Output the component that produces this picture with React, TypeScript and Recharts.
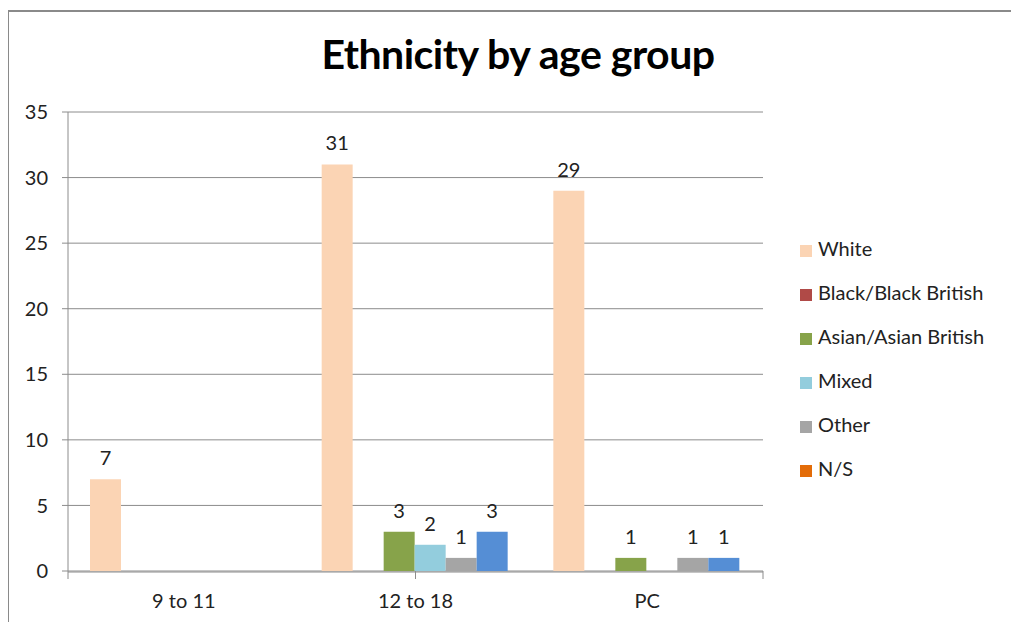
import { BarChart, Bar, XAxis, YAxis, CartesianGrid, Legend, LabelList, Cell } from "recharts";

const groups = ["9 to 11", "12 to 18", "PC"];
const white = [7, 31, 29];
const black = [0, 0, 0];
const asian = [0, 3, 1];
const mixed = [0, 2, 0];
const other = [0, 1, 1];
const notStated = [0, 3, 1];
const yTicks = [0, 5, 10, 15, 20, 25, 30, 35];
const seriesNames = ["White", "Black/Black British", "Asian/Asian British", "Mixed", "Other", "N/S"];

const data = groups.map((name, i) => ({
  name,
  white: white[i],
  black: black[i],
  asian: asian[i],
  mixed: mixed[i],
  other: other[i],
  ns: notStated[i],
}));

const FONT = "Lato, 'Open Sans', sans-serif";
const GRID = "#8c8c8c";

const showValue = (v: unknown) => (Number(v) > 0 ? String(v) : "");
const labelStyle = { fontSize: 20, fill: "#222", fontFamily: FONT };

export default function App() {
  return (
    <div style={{ position: "relative", width: 1019, height: 630, margin: -8, fontFamily: FONT, background: "#fff" }}>
      <div
        style={{
          position: "absolute",
          left: 0,
          width: 1036,
          top: 29,
          textAlign: "center",
          fontSize: 41,
          fontWeight: 700,
          color: "#000",
          letterSpacing: -0.5,
        }}
      >
        Ethnicity by age group
      </div>
      <BarChart
        width={1019}
        height={630}
        data={data}
        margin={{ top: 112, right: 37, left: 8, bottom: 24 }}
        barCategoryGap={22}
        barGap={0}
        style={{ position: "absolute", left: 0, top: 0 }}
      >
        <CartesianGrid xAxisId="cat" vertical={false} stroke={GRID} strokeWidth={1} />
        {/* ticks between categories, like the original */}
        <XAxis
          xAxisId="bounds"
          type="number"
          domain={[0, 3]}
          ticks={[0, 1, 2, 3]}
          height={1}
          axisLine={false}
          tickLine={{ stroke: GRID }}
          tickSize={8}
          tickFormatter={() => ""}
        />
        <XAxis
          xAxisId="cat"
          dataKey="name"
          height={34}
          axisLine={{ stroke: GRID }}
          tickLine={false}
          tick={{ fontSize: 20, fill: "#222", fontFamily: FONT }}
          tickMargin={16}
        />
        <YAxis
          domain={[0, 35]}
          ticks={yTicks}
          width={60}
          axisLine={{ stroke: GRID }}
          tickLine={{ stroke: GRID }}
          tickSize={6}
          tick={{ fontSize: 20, fill: "#222", fontFamily: FONT }}
          tickMargin={14}
          interval={0}
        />
        <Legend
          layout="vertical"
          align="right"
          verticalAlign="top"
          iconType="square"
          iconSize={12}
          itemSorter={(item: any) => seriesNames.indexOf(item.value)}
          wrapperStyle={{ left: 800, top: 226, width: 219, fontSize: 20, lineHeight: "44px", fontFamily: FONT }}
          formatter={(v) => <span style={{ color: "#222", marginLeft: 2 }}>{v}</span>}
        />
        <Bar xAxisId="cat" dataKey="white" name={seriesNames[0]} fill="#FBD4B4" isAnimationActive={false}>
          <LabelList dataKey="white" position="top" offset={14} formatter={showValue} style={labelStyle} />
        </Bar>
        <Bar xAxisId="cat" dataKey="black" name={seriesNames[1]} fill="#B04A47" isAnimationActive={false}>
          <LabelList dataKey="black" position="top" offset={14} formatter={showValue} style={labelStyle} />
        </Bar>
        <Bar xAxisId="cat" dataKey="asian" name={seriesNames[2]} fill="#87A34A" isAnimationActive={false}>
          <LabelList dataKey="asian" position="top" offset={14} formatter={showValue} style={labelStyle} />
        </Bar>
        <Bar xAxisId="cat" dataKey="mixed" name={seriesNames[3]} fill="#93CDDD" isAnimationActive={false}>
          <LabelList dataKey="mixed" position="top" offset={14} formatter={showValue} style={labelStyle} />
        </Bar>
        <Bar xAxisId="cat" dataKey="other" name={seriesNames[4]} fill="#A5A5A5" isAnimationActive={false}>
          <LabelList dataKey="other" position="top" offset={14} formatter={showValue} style={labelStyle} />
        </Bar>
        <Bar xAxisId="cat" dataKey="ns" name={seriesNames[5]} fill="#E36C09" isAnimationActive={false}>
          {data.map((_, i) => (
            <Cell key={i} fill="#558ED5" />
          ))}
          <LabelList dataKey="ns" position="top" offset={14} formatter={showValue} style={labelStyle} />
        </Bar>
      </BarChart>
      {/* frame of the original screenshot */}
      <div style={{ position: "absolute", left: 4, top: 10, width: 1015, height: 2, background: "#8a8a8a", zIndex: 10 }} />
      <div style={{ position: "absolute", left: 7, top: 10, width: 2, height: 620, background: "#8a8a8a", zIndex: 10 }} />
    </div>
  );
}
